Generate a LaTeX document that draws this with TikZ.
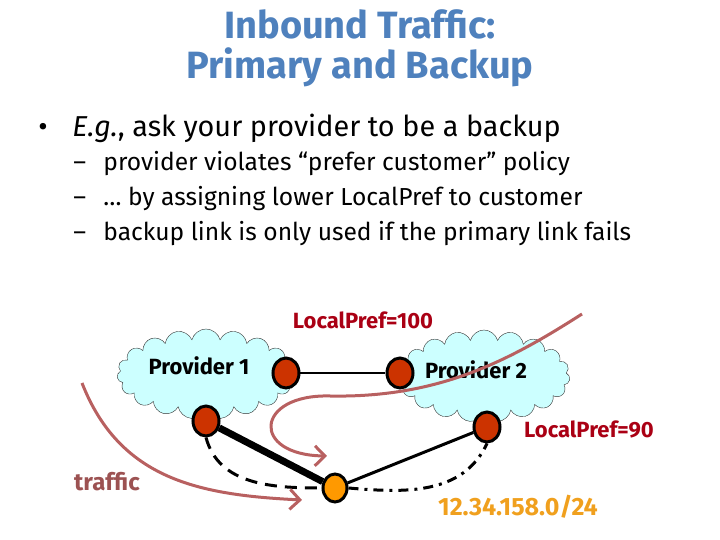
\documentclass[tikz,border=0pt]{standalone}
\usepackage{xcolor}
\usepackage{fontspec}
\setmainfont{Fira Sans}
\usepackage{tikz}
\usetikzlibrary{shapes.geometric, shapes.symbols, arrows, arrows.meta, positioning}
\definecolor{titleblue}{RGB}{79, 129, 189}
\definecolor{routerred}{RGB}{204, 51, 0}
\definecolor{custorange}{RGB}{255, 153, 0}
\definecolor{prefred}{RGB}{170, 0, 20}
\definecolor{trafficbrown}{RGB}{184, 96, 96}
\definecolor{cloudcyan}{RGB}{204, 255, 255}
\definecolor{prefixorange}{RGB}{240, 160, 30}

\begin{document}
\begin{tikzpicture}[
    x=0.5pt, y=-0.5pt,
    router/.style={ellipse, draw=black, line width=1.5pt, fill=routerred,
                   minimum width=13pt, minimum height=15pt, inner sep=0pt},
    customer/.style={router, fill=custorange,
                     minimum width=12pt, minimum height=14pt},
    provider/.style={cloud, cloud puffs=19, cloud ignores aspect,
                     draw=black!80, very thin, fill=cloudcyan},
    titletext/.style={text=titleblue, font=\fontsize{19}{23}\selectfont\bfseries},
    bodytext/.style={anchor=base west, inner sep=0pt, font=\fontsize{14.4}{17}\selectfont},
    subtext/.style={anchor=base west, inner sep=0pt, font=\fontsize{12.3}{14}\selectfont},
    label/.style={font=\fontsize{11}{13}\selectfont\bfseries},
    pref/.style={label, text=prefred},
    traffic/.style={-{Straight Barb[length=5pt, width=10pt]}, trafficbrown, line width=1.5pt}
]
    \useasboundingbox (0,0) rectangle (720,540);

    % Title and bullets
    \node[titletext] (title1) at (360,24) {Inbound Traffic:};
    \node[titletext] (title2) at (360,67) {Primary and Backup};
    \node[bodytext] (dot) at (38,137) {•};
    \node[bodytext] (item) at (72,137) {\textit{E.g.}, ask your provider to be a backup};
    \node[subtext] (dash1) at (73,171) {–};
    \node[subtext] (sub1) at (103,171) {provider violates “prefer customer” policy};
    \node[subtext] (dash2) at (73,206) {–};
    \node[subtext] (sub2) at (103,206) {… by assigning lower LocalPref to customer};
    \node[subtext] (dash3) at (73,241) {–};
    \node[subtext] (sub3) at (103,241) {backup link is only used if the primary link fails};

    % Provider clouds
    \node[provider, minimum width=89pt, minimum height=45pt] (cloud1) at (206,374) {};
    \node[provider, minimum width=86pt, minimum height=46pt] (cloud2) at (484,376) {};
    \node[label] (p1) at (199,366) {Provider 1};
    \node[label] (p2) at (476,370) {Provider 2};

    % Routers
    \node[router] (a) at (286,373) {};
    \node[router] (b) at (400,373) {};
    \node[router] (c) at (206,421) {};
    \node[router] (d) at (487,427) {};
    \node[customer] (e) at (335,488) {};

    % Links
    \draw[line width=0.8pt] (a) -- (b);
    \draw[line width=3.5pt] (c) -- (e);
    \draw[line width=1.5pt] (e) -- (d);
    \draw[line width=1.5pt, dash pattern=on 6pt off 4pt]
        (c.south) to[out=-75, in=180] (e.west);
    \draw[line width=1.5pt, dash pattern=on 5pt off 3pt on 1.5pt off 3pt]
        (e.east) to[out=-5, in=-115] (d.south);

    % Labels
    \node[pref] (lp100) at (363,320) {LocalPref=100};
    \node[pref] (lp90) at (589,429) {LocalPref=90};
    \node[label, font=\fontsize{12}{14}\selectfont\bfseries, text=trafficbrown!85!black] (trafficlbl) at (107,482) {traffic};
    \node[label, font=\fontsize{12.5}{14}\selectfont\bfseries, text=prefixorange] (prefix) at (518,507) {12.34.158.0/24};

    % Traffic arrows
    \coordinate (tstart) at (82,383);
    \coordinate (tend) at (302,500);
    \coordinate (lstart) at (582,314);
    \coordinate (lmid) at (330,396);
    \coordinate (lend) at (327,456);
    \draw[traffic] (tstart) .. controls (120,480) and (200,495) .. (tend);
    \draw[traffic] (lstart) .. controls (510,360) and (440,398) .. (lmid)
        .. controls (255,394) and (250,455) .. (lend);

\end{tikzpicture}
\end{document}
